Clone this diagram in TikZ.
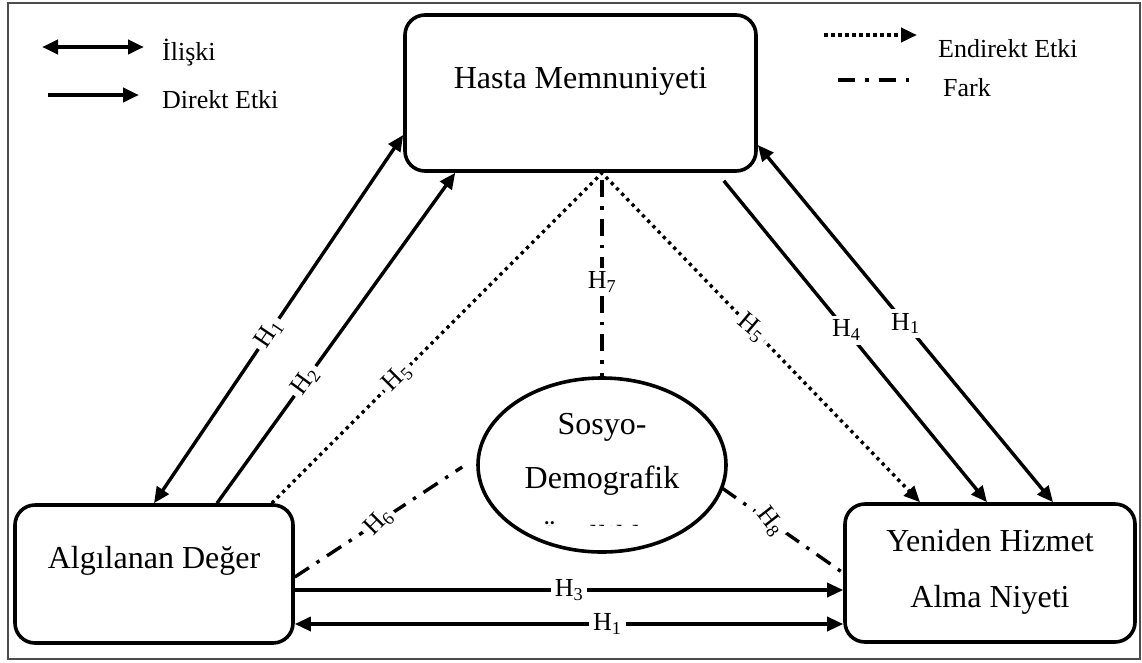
\documentclass[tikz,border=0pt]{standalone}
\usepackage{fontspec}
\setmainfont{Liberation Serif}
\usetikzlibrary{arrows.meta,shapes.geometric,calc}
\begin{document}
\begin{tikzpicture}[x=1pt,y=-1pt,
  box/.style={draw, rounded corners=20pt, line width=3.6pt, inner sep=0pt},
  bigtxt/.style={font=\fontsize{32}{38}\selectfont, inner sep=0pt, anchor=base},
  legtxt/.style={font=\fontsize{26}{30}\selectfont, inner sep=0pt, anchor=base west},
  hlab/.style={font=\fontsize{26}{30}\selectfont, fill=white, inner sep=4pt},
  conn/.style={line width=3.4pt},
  tip/.tip={Triangle[length=16pt,width=14pt]},
  dotline/.style={conn, dash pattern=on 3.3pt off 4.2pt},
  dashdot/.style={conn, dash pattern=on 17pt off 9pt on 3.5pt off 9pt}
]
\useasboundingbox (0,0) rectangle (1142,662);
\draw[line width=1.8pt, black!70] (8,3) rectangle (1140,659);

% boxes
\node[box, minimum width=351pt, minimum height=156pt] (hasta) at (580.5,93) {};
\node[bigtxt] (hastaT) at (580.5,88) {Hasta Memnuniyeti};
\node[box, minimum width=278pt, minimum height=138pt] (alg) at (154,574) {};
\node[bigtxt] (algT) at (154,568) {Algılanan Değer};
\node[box, minimum width=290pt, minimum height=138pt] (yen) at (990,573) {};
\node[bigtxt] (yenT1) at (990,551) {Yeniden Hizmet};
\node[bigtxt] (yenT2) at (990,607) {Alma Niyeti};
\node[draw, ellipse, line width=3.6pt, minimum width=248pt, minimum height=174pt, inner sep=0pt] (ell) at (602,465) {};
\node[bigtxt] (ellT1) at (602,434) {Sosyo-};
\node[bigtxt] (ellT2) at (602,488) {Demografik};
\begin{scope}
  \clip (480,500) rectangle (730,525);
  \node[bigtxt] (ellT3) at (602,547) {Özellikler};
\end{scope}

% legend
\coordinate (l1a) at (42,47); \coordinate (l1b) at (144,47);
\draw[line width=4pt, {tip}-{tip}] (l1a) -- (l1b);
\node[legtxt] (l1t) at (162,60) {İlişki};
\coordinate (l2a) at (48,95); \coordinate (l2b) at (139,95);
\draw[line width=4pt, -{tip}] (l2a) -- (l2b);
\node[legtxt] (l2t) at (162,108) {Direkt Etki};
\coordinate (l3a) at (824,35); \coordinate (l3b) at (917,35);
\draw[line width=4pt, dash pattern=on 3.5pt off 3.5pt, -{tip}] (l3a) -- (l3b);
\node[legtxt] (l3t) at (938,57) {Endirekt Etki};
\coordinate (l4a) at (838,80); \coordinate (l4b) at (913,80);
\draw[line width=4pt, dash pattern=on 17pt off 10pt on 3.5pt off 10pt] (l4a) -- (l4b);
\node[legtxt] (l4t) at (943,96) {Fark};

% connectors
\coordinate (apex) at (602,173);
\draw[conn, {tip}-{tip}] (alg.north) -- node[hlab, pos=.46, rotate=56] {H\textsubscript{1}} ($(hasta.west)+(0,42)$);
\draw[conn, -{tip}] ($(alg.north)+(63,0)$) -- node[hlab, pos=.37, rotate=54] {H\textsubscript{2}} ($(hasta.south west)+(52,0)$);
\draw[dotline, -{tip}] ($(alg.north east)+(-23,0)$) -- node[hlab, pos=.38, rotate=45] {H\textsubscript{5}} (apex)
   -- node[hlab, pos=.47, rotate=-40] {H\textsubscript{5}} ($(yen.north)+(-70,0)$);
\draw[dashdot] ($(apex)+(0,7)$) -- node[hlab, pos=.52] {H\textsubscript{7}} (ell.north);
\draw[conn, -{tip}] ($(hasta.south east)+(-34,8)$) -- node[hlab, pos=.465] {H\textsubscript{4}} ($(yen.north)+(-3,0)$);
\draw[conn, {tip}-{tip}] ($(hasta.east)+(0,52)$) -- node[hlab, pos=.5] {H\textsubscript{1}} ($(yen.north)+(63,0)$);
\draw[dashdot] ($(alg.east)+(0,3)$) -- node[hlab, pos=.5, rotate=45] {H\textsubscript{6}} ($(ell.west)+(-14,2)$);
\draw[dashdot] ($(ell.center)+(120,23)$) -- node[hlab, pos=.4, rotate=-52] {H\textsubscript{8}} (yen.west);
\draw[conn, -{tip}] ($(alg.east)+(0,16)$) -- node[hlab, pos=.5] {H\textsubscript{3}} ($(yen.west)+(0,17)$);
\draw[conn, {tip}-{tip}] ($(alg.east)+(0,50)$) -- node[hlab, pos=.57] {H\textsubscript{1}} ($(yen.west)+(0,51)$);
\end{tikzpicture}
\end{document}
